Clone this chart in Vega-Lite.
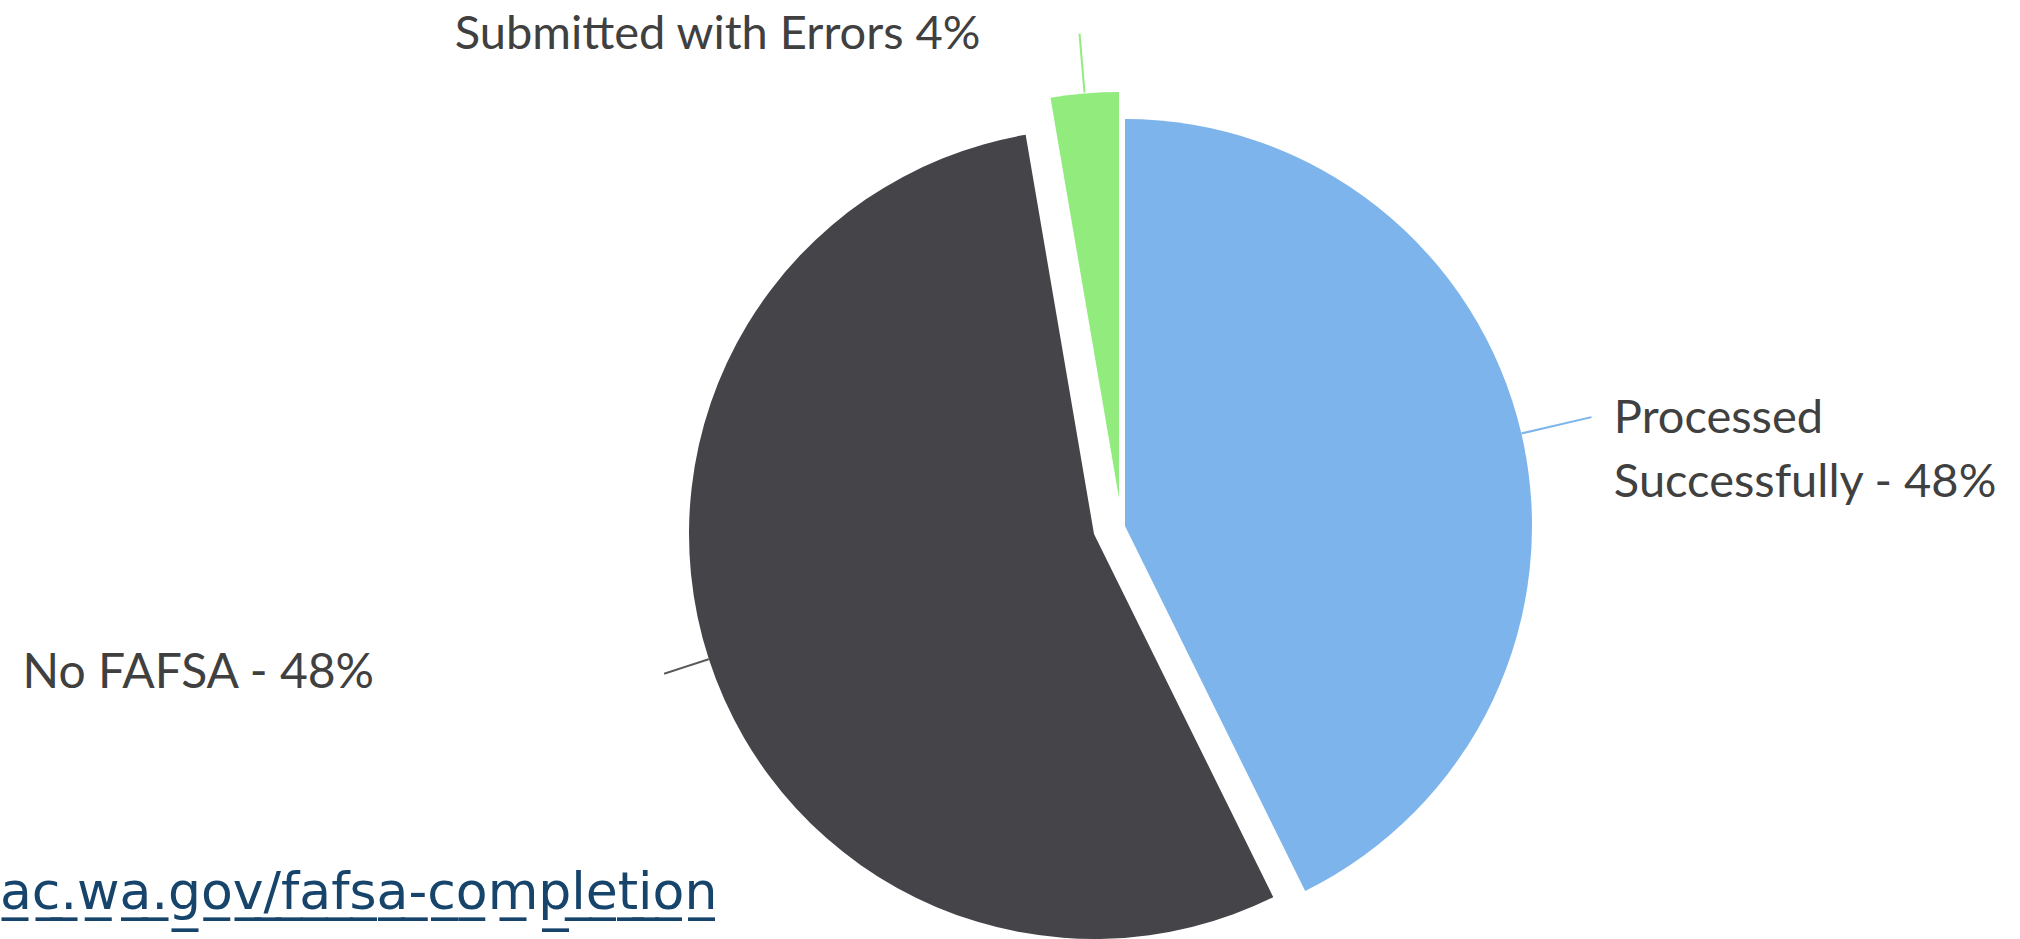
{
  "$schema": "https://vega.github.io/schema/vega-lite/v6.json",
  "width": 2020,
  "height": 939,
  "autosize": "none",
  "padding": 0,
  "background": "white",
  "config": {"view": {"stroke": null}},
  "title": {
    "text": "a̲c̲.̲w̲a̲.̲g̲o̲v̲/̲f̲a̲f̲s̲a̲-̲c̲o̲m̲p̲l̲e̲t̲i̲o̲n̲",
    "orient": "bottom",
    "anchor": "start",
    "frame": "group",
    "offset": -30,
    "baseline": "alphabetic",
    "font": "DejaVu Sans",
    "fontSize": 52,
    "fontWeight": "normal",
    "color": "#17446B",
    "dx": 0
  },
  "resolve": {"scale": {"theta": "independent"}},
  "data": {
    "values": [
      {"status": "Processed Successfully", "value": 42.7, "label": ["Processed", "Successfully - 48%"]},
      {"status": "No FAFSA", "value": 54.6, "label": "No FAFSA - 48%"},
      {"status": "Submitted with Errors", "value": 2.7, "label": "Submitted with Errors 4%"}
    ]
  },
  "encoding": {
    "theta": {"field": "value", "type": "quantitative", "stack": true, "scale": {"range": [6.1136, 12.3968]}},
    "order": {"field": "status", "sort": "descending"},
    "color": {
      "field": "status",
      "type": "nominal",
      "scale": {"domain": ["Processed Successfully", "No FAFSA", "Submitted with Errors"], "range": ["#7DB4EB", "#454449", "#92EB7D"]},
      "legend": null
    }
  },
  "layer": [
    {
      "mark": {"type": "arc", "xOffset": 115, "yOffset": 56.5},
      "encoding": {
        "radius": {"value": 407},
        "opacity": {"condition": {"test": "datum.status === 'Processed Successfully'", "value": 1}, "value": 0}
      }
    },
    {
      "mark": {"type": "arc", "xOffset": 84, "yOffset": 64.5},
      "encoding": {
        "radius": {"value": 405},
        "opacity": {"condition": {"test": "datum.status === 'No FAFSA'", "value": 1}, "value": 0}
      }
    },
    {
      "mark": {"type": "arc", "xOffset": 109, "yOffset": 28.5},
      "encoding": {
        "radius": {"value": 406},
        "opacity": {"condition": {"test": "datum.status === 'Submitted with Errors'", "value": 1}, "value": 0}
      }
    },
    {
      "mark": {"type": "arc", "filled": false, "strokeWidth": 2, "xOffset": 115, "yOffset": 56.5},
      "encoding": {
        "theta": {"field": "value", "type": "quantitative", "stack": true, "scale": {"range": [1.34146, 1.34156]}},
        "radius": {"value": 478},
        "radius2": {"value": 408},
        "opacity": {"condition": {"test": "datum.status === 'Processed Successfully'", "value": 1}, "value": 0}
      }
    },
    {
      "mark": {"type": "arc", "filled": false, "strokeWidth": 2, "xOffset": 84, "yOffset": 64.5},
      "encoding": {
        "theta": {"field": "value", "type": "quantitative", "stack": true, "scale": {"range": [4.3982, 4.3983]}},
        "radius": {"value": 451},
        "radius2": {"value": 406},
        "color": {"value": "#595959"},
        "opacity": {"condition": {"test": "datum.status === 'No FAFSA'", "value": 1}, "value": 0}
      }
    },
    {
      "mark": {"type": "arc", "filled": false, "strokeWidth": 2, "xOffset": 109, "yOffset": 28.5},
      "encoding": {
        "theta": {"field": "value", "type": "quantitative", "stack": true, "scale": {"range": [6.19832, 6.19842]}},
        "radius": {"value": 465},
        "radius2": {"value": 408},
        "opacity": {"condition": {"test": "datum.status === 'Submitted with Errors'", "value": 1}, "value": 0}
      }
    },
    {
      "mark": {"type": "text", "align": "left", "baseline": "alphabetic", "font": "Lato", "fontSize": 47, "lineHeight": 64, "xOffset": 115, "yOffset": 56.5, "dy": 21},
      "encoding": {
        "text": {"field": "label"},
        "radius": {"value": 502},
        "color": {"value": "#404040"},
        "opacity": {"condition": {"test": "datum.status === 'Processed Successfully'", "value": 1}, "value": 0}
      }
    },
    {
      "mark": {"type": "text", "align": "right", "baseline": "alphabetic", "font": "Lato", "fontSize": 48, "xOffset": 84, "yOffset": 64.5, "dy": -80},
      "encoding": {
        "text": {"field": "label"},
        "radius": {"value": 757},
        "color": {"value": "#404040"},
        "opacity": {"condition": {"test": "datum.status === 'No FAFSA'", "value": 1}, "value": 0}
      }
    },
    {
      "mark": {"type": "text", "align": "right", "baseline": "alphabetic", "font": "Lato", "fontSize": 47, "xOffset": 109, "yOffset": 28.5, "dx": -100, "dy": 4},
      "encoding": {
        "text": {"field": "label"},
        "radius": {"value": 455},
        "color": {"value": "#404040"},
        "opacity": {"condition": {"test": "datum.status === 'Submitted with Errors'", "value": 1}, "value": 0}
      }
    }
  ]
}
